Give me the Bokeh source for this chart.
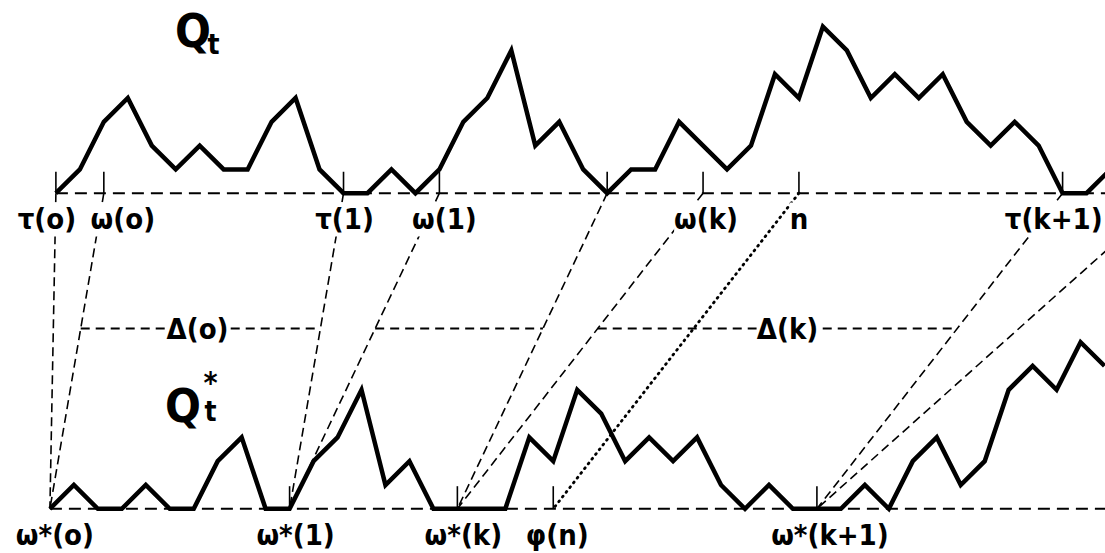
from bokeh.plotting import figure
from bokeh.models import Range1d, Label
from bokeh.embed import file_html
from bokeh.resources import INLINE

# ---------------- data ----------------
# upper walk Q_t : level at each step t = 0..44
top_levels = [0, 1, 3, 4, 2, 1, 2, 1, 1, 3,
              4, 1, 0, 0, 1, 0, 1, 3, 4, 6,
              2, 3, 1, 0, 1, 1, 3, 2, 1, 2,
              5, 4, 7, 6, 4, 5, 4, 5, 3, 2,
              3, 2, 0, 0, 1]
# lower walk Q*_t : level at each step s = 0..44
bottom_levels = [0, 1, 0, 0, 1, 0, 0, 2, 3, 0,
                 0, 2, 3, 5, 1, 2, 0, 0, 0, 0,
                 3, 2, 5, 4, 2, 3, 2, 3, 1, 0,
                 1, 0, 0, 0, 1, 0, 2, 3, 1, 2,
                 5, 6, 5, 7, 6]

top_tick_steps = [0, 2, 12, 16, 23, 27, 31, 42]
top_tick_labels = ["τ(o)", "ω(o)", "τ(1)", "ω(1)", "", "ω(k)", "n", "τ(k+1)"]
bottom_tick_steps = [10, 17, 21, 32]
bottom_label_steps = [0, 10, 17, 21, 32]
bottom_labels = ["ω*(o)", "ω*(1)", "ω*(k)", "φ(n)", "ω*(k+1)"]

# dashed links  top step -> bottom step
link_top = [0, 2, 12, 16, 23, 27, 42, 46.5]
link_bottom = [0, 0, 10, 10, 17, 17, 32, 32]
# dotted link n -> φ(n)
dot_top = [31]
dot_bottom = [21]
# horizontal Δ segments: between link i and link j
delta_pairs = [(1, 2), (3, 4), (5, 6)]
delta_labels = ["Δ(o)", "", "Δ(k)"]

# ---------------- layout constants ----------------
TOP_Y = 13.26      # level offset of the upper baseline
BOT_SHIFT = -0.25  # horizontal shift of lower walk
DELTA_Y = 7.575
FONT = "DejaVu Sans Condensed, DejaVu Sans, sans-serif"
XMIN, XMAX = -2.311, 43.79
YMIN, YMAX = -1.878, 21.357

p = figure(width=1105, height=553, output_backend="svg", toolbar_location=None,
           x_range=Range1d(XMIN, XMAX), y_range=Range1d(YMIN, YMAX),
           x_axis_type=None, y_axis_type=None, min_border=0,
           outline_line_color=None, background_fill_color="white",
           border_fill_color="white")

# baselines
p.line([0, XMAX + 1], [TOP_Y, TOP_Y], line_color="black", line_width=2, line_dash="12 7")
p.line([BOT_SHIFT, XMAX + 1], [0, 0], line_color="black", line_width=2, line_dash="12 7")

# links
lt_x = list(link_top)
lb_x = [s + BOT_SHIFT for s in link_bottom]
p.segment(x0=lt_x, y0=[TOP_Y] * len(lt_x), x1=lb_x, y1=[0] * len(lb_x),
          line_color="black", line_width=1.6, line_dash="9 5")
p.segment(x0=list(dot_top), y0=[TOP_Y], x1=[s + BOT_SHIFT for s in dot_bottom], y1=[0],
          line_color="black", line_width=2.8, line_dash="1 5", line_cap="round")

# delta horizontals
frac = (TOP_Y - DELTA_Y) / TOP_Y
def x_at(i):
    return lt_x[i] + (lb_x[i] - lt_x[i]) * frac

dx0, dx1 = [], []
for a, b in delta_pairs:
    dx0.append(x_at(a))
    dx1.append(x_at(b))
p.segment(x0=dx0, y0=[DELTA_Y] * 3, x1=dx1, y1=[DELTA_Y] * 3,
          line_color="black", line_width=1.8, line_dash="9 6")

# ticks
p.segment(x0=top_tick_steps, y0=[TOP_Y] * len(top_tick_steps),
          x1=top_tick_steps, y1=[TOP_Y + 0.9] * len(top_tick_steps),
          line_color="black", line_width=1.6)
bt = [s + BOT_SHIFT for s in bottom_tick_steps]
p.segment(x0=bt, y0=[0] * len(bt), x1=bt, y1=[0.95] * len(bt),
          line_color="black", line_width=1.6)

# walks
p.line(list(range(len(top_levels))), [v + TOP_Y for v in top_levels],
       line_color="black", line_width=4.5, line_join="miter")
p.line([s + BOT_SHIFT for s in range(len(bottom_levels))], bottom_levels,
       line_color="black", line_width=4.5, line_join="miter")

def lab(x, y, text, size, xo=0, baseline="middle", bg=True, style="bold", align="center"):
    p.add_layout(Label(x=x, y=y, text=text, text_align=align, text_baseline=baseline,
                       text_font=FONT, text_font_size=size, text_color="black",
                       text_font_style=style, x_offset=xo,
                       background_fill_color="white" if bg else None))

top_off = [-9, 19, 1, 5, 0, 3, 0, 40]
for t, txt, xo in zip(top_tick_steps, top_tick_labels, top_off):
    if txt:
        lab(t, TOP_Y - 1.1, txt, "29px", xo, align="right" if txt == "τ(k+1)" else "center")

bot_off = [5, 6, 6, 4, 13]
for s, txt, xo in zip(bottom_label_steps, bottom_labels, bot_off):
    lab(s + BOT_SHIFT, -1.12, txt, "29px", xo)

d_off = [-3, 0, 10]
for x0, x1, txt, xo in zip(dx0, dx1, delta_labels, d_off):
    if txt:
        lab((x0 + x1) / 2, DELTA_Y, txt, "29px", xo)

# Q_t and Q*_t
lab(5.72, 20.1, "Q", "47px", baseline="alphabetic", bg=False)
lab(6.58, 19.5, "t", "28px", baseline="alphabetic", bg=False)
lab(5.3, 4.35, "Q", "47px", baseline="alphabetic", bg=False)
lab(6.45, 5.3, "*", "30px", bg=False)
lab(6.45, 4.1, "t", "28px", baseline="alphabetic", bg=False)

open("out.html", "w").write(file_html(p, INLINE))
